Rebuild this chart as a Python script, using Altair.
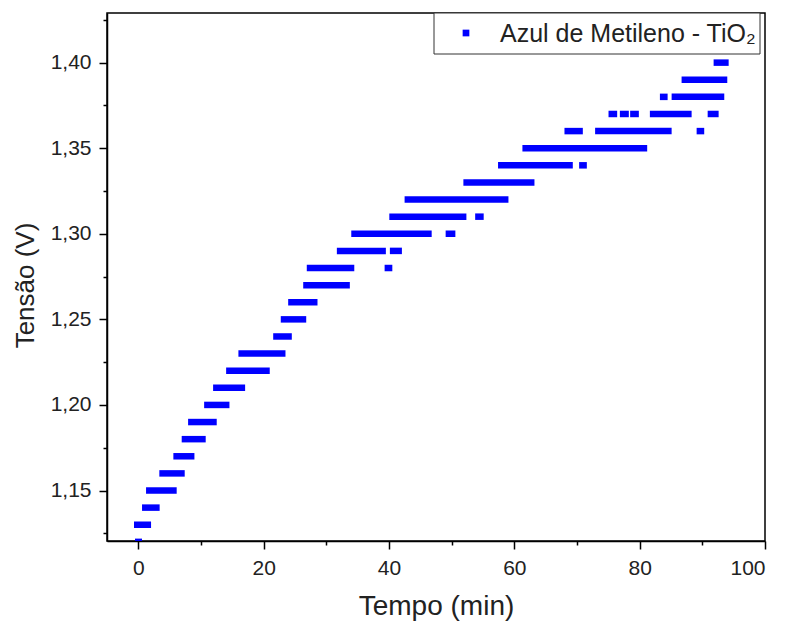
import altair as alt
import pandas as pd

# Voltage level of each run of markers (V)
seg_v = [1.12, 1.13, 1.14, 1.15, 1.16, 1.17, 1.18, 1.19, 1.20, 1.21, 1.22, 1.23,
         1.24, 1.25, 1.26, 1.27, 1.28, 1.28, 1.29, 1.29, 1.30, 1.30, 1.31, 1.31,
         1.32, 1.33, 1.34, 1.34, 1.35, 1.36, 1.36, 1.36, 1.37, 1.37, 1.37, 1.37,
         1.37, 1.38, 1.38, 1.39, 1.40]
# Start / end time of each run (min)
seg_start = [-0.53, -0.69, 0.59, 1.23, 3.35, 5.59, 6.92, 7.94, 10.50, 11.93, 14.01, 15.97,
             21.52, 22.73, 23.91, 26.31, 26.88, 39.30, 31.68, 40.14, 33.98, 49.04, 40.05, 53.75,
             42.49, 51.87, 57.40, 70.34, 61.29, 68.00, 72.89, 89.09, 75.03, 76.84, 78.48, 81.63,
             90.85, 83.23, 85.10, 86.69, 91.80]
seg_end = [0.59, 2.03, 3.40, 6.12, 7.40, 8.95, 10.75, 12.51, 14.54, 17.04, 20.97, 23.48,
           24.49, 26.79, 28.59, 33.75, 34.46, 40.53, 39.50, 42.06, 46.81, 50.59, 52.35, 55.11,
           59.06, 63.21, 69.33, 71.57, 81.20, 70.93, 85.10, 90.30, 76.41, 78.27, 79.87, 88.29,
           92.60, 84.46, 93.50, 93.98, 94.20]

series_name = "Azul de Metileno - TiO₂"
x_ticks = [0, 10, 20, 30, 40, 50, 60, 70, 80, 90, 100]
y_ticks = [1.125, 1.15, 1.175, 1.20, 1.225, 1.25, 1.275, 1.30, 1.325, 1.35, 1.375, 1.40, 1.425]

df = pd.DataFrame({"v": seg_v, "t0": seg_start, "t1": seg_end})
legend_df = pd.DataFrame({"label": [series_name]})

FONT = "Liberation Sans"
BLUE = "#0000FF"

x_axis = alt.Axis(
    values=x_ticks,
    title="Tempo (min)",
    labelExpr="datum.value % 20 == 0 ? format(datum.value, 'd') : ''",
    tickSize={"condition": {"test": "datum.value % 20 != 0", "value": 4}, "value": 8},
    labelPadding=8,
    titlePadding=14,
    titleFontSize=28,
)
y_axis = alt.Axis(
    values=y_ticks,
    title="Tensão (V)",
    labelExpr="round(datum.value*1000) % 50 == 0 ? replace(format(datum.value, '.2f'), '.', ',') : ''",
    tickSize={"condition": {"test": "round(datum.value*1000) % 50 != 0", "value": 4}, "value": 8},
    labelPadding=8,
    titlePadding=12,
    titleFontSize=26,
    titleY=272,
)

points = alt.Chart(df).mark_bar(size=6.5, orient="horizontal", color=BLUE, clip=True).encode(
    x=alt.X("t0:Q", scale=alt.Scale(domain=[-5, 100], nice=False, zero=False, padding=0), axis=x_axis),
    x2="t1:Q",
    y=alt.Y("v:Q", scale=alt.Scale(domain=[1.1205, 1.429], nice=False, zero=False, padding=0), axis=y_axis),
)

box = alt.Chart(legend_df).mark_rect(fill="white", stroke="#333333", strokeWidth=1).encode(
    x=alt.value(327), x2=alt.value(653), y=alt.value(0), y2=alt.value(41)
)
sym = alt.Chart(legend_df).mark_square(size=45, color=BLUE, opacity=1).encode(
    x=alt.value(359), y=alt.value(20)
)
txt = alt.Chart(legend_df).mark_text(
    align="left", baseline="middle", fontSize=25, font=FONT, color="#222222"
).encode(x=alt.value(393), y=alt.value(21), text="label:N")

chart = alt.layer(points, box, sym, txt).properties(
    width=658,
    height=528,
    autosize=alt.AutoSizeParams(type="none"),
    padding={"left": 107, "top": 13, "right": 20, "bottom": 84},
).configure_view(
    stroke="black", strokeWidth=1.5
).configure_axis(
    domainColor="black", domainWidth=1.5, tickColor="black", tickWidth=1.5,
    labelFont=FONT, labelFontSize=21, labelColor="#222222",
    titleFont=FONT, titleFontWeight="normal", titleColor="#222222",
    grid=False,
)

chart.save("out.html", embed_options={"renderer": "svg", "actions": False})
